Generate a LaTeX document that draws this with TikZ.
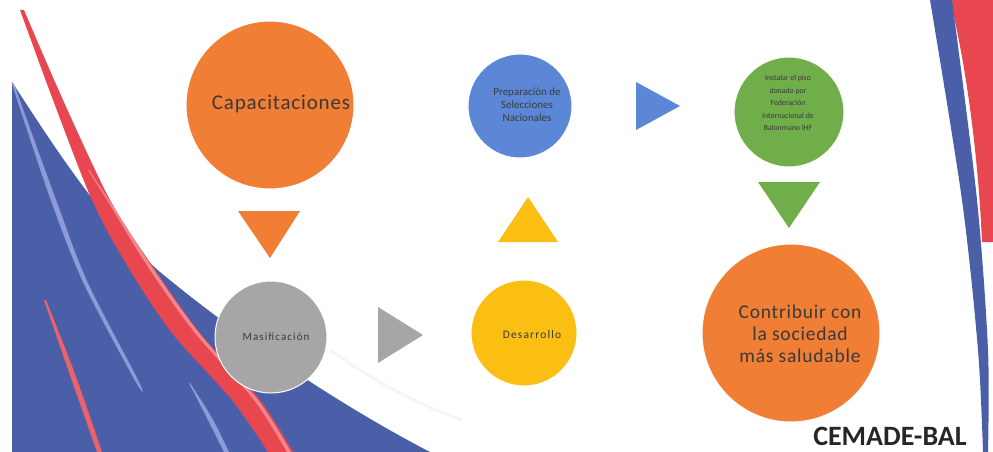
\documentclass[tikz,border=0pt]{standalone}
\usepackage{fontspec}
\setmainfont{Carlito}
\definecolor{swblue}{HTML}{4A5FA8}
\definecolor{swlight}{HTML}{8D9CD8}
\definecolor{swred}{HTML}{E8474F}
\definecolor{swpink}{HTML}{EE8890}
\definecolor{corange}{HTML}{F07E35}
\definecolor{cgray}{HTML}{A6A6A6}
\definecolor{cyellow}{HTML}{FBBF14}
\definecolor{cblue}{HTML}{5B87D6}
\definecolor{cgreen}{HTML}{6FAE48}
\definecolor{txt}{HTML}{3A3A3A}
\begin{document}
\begin{tikzpicture}[x=1pt,y=-1pt,
  disc/.style={circle,draw=white,line width=1pt,inner sep=0pt},
  lbl/.style={text=txt,align=center,inner sep=0pt}]
\useasboundingbox (0,0) rectangle (993,452);
% ---------- left swoosh ----------
\fill[swblue] (12,82) .. controls (50,140) and (100,220) .. (160,272)
   .. controls (230,330) and (330,400) .. (430,452) -- (12,452) -- cycle;
\fill[swlight] plot[smooth] coordinates {(12,84) (50,198) (83,282) (133,377) (143,392)}
   -- plot[smooth] coordinates {(143,392) (136,376) (87,281) (55,197) (14,84)} -- cycle;
\fill[swlight] plot[smooth] coordinates {(189,383) (208,420) (224,452)}
   -- plot[smooth] coordinates {(229,452) (212,418) (190,383)} -- cycle;
\fill[swred!85] plot[smooth] coordinates {(44,300) (70,375) (97,452)}
   -- plot[smooth] coordinates {(102,452) (75,374) (46,300)} -- cycle;
\fill[swred] plot[smooth] coordinates {(20,10) (53,100) (92,200) (128,267) (172,333) (232,400) (268,452)}
   -- plot[smooth] coordinates {(293,452) (260,400) (200,333) (153,267) (110,200) (63,100) (24,10)} -- cycle;
\fill[swpink] plot[smooth] coordinates {(88,170) (107,200) (148,267) (195,333) (254,400) (287,452)}
   -- plot[smooth] coordinates {(291,452) (258,400) (199,333) (152,267) (109,200) (89,170)} -- cycle;
\draw[gray!8,line width=3pt] (330,350) .. controls (380,385) and (420,405) .. (462,420);
% ---------- right swoosh ----------
\fill[swred] (950,0) -- (993,0) -- (993,242) -- (982,242)
   .. controls (978,150) and (965,60) .. (950,0) -- cycle;
\fill[swblue] plot[smooth] coordinates {(930,0) (962,200) (978,350) (983,452)}
   -- plot[smooth] coordinates {(988,452) (988,350) (977,200) (952,0)} -- cycle;
% ---------- circles ----------
\node[disc,fill=corange,minimum size=168pt] (cap) at (270,105) {};
\node[disc,fill=cgray,minimum size=112pt] (mas) at (271,337) {};
\node[disc,fill=cyellow,minimum size=106pt] (des) at (524,333) {};
\node[disc,fill=cblue,minimum size=104pt] (pre) at (520,106) {};
\node[disc,fill=cgreen,minimum size=110pt] (ins) at (789,112) {};
\node[disc,fill=corange,minimum size=178pt] (con) at (791,333) {};
% ---------- triangles ----------
\fill[corange] (238,211) -- (300,211) -- (270,258) -- cycle;
\fill[cgray] (378,307) -- (423,335) -- (378,363) -- cycle;
\fill[cyellow] (498,242) -- (558,242) -- (528,197) -- cycle;
\fill[cblue] (636,82) -- (680,106) -- (636,130) -- cycle;
\fill[cgreen] (758,182) -- (820,182) -- (789,228) -- cycle;
% ---------- texts ----------
\node[lbl,font=\fontsize{21}{26}\selectfont\addfontfeature{LetterSpace=4}] (tcap) at (281,104) {Capacitaciones};
\node[lbl,font=\fontsize{11}{12}\selectfont\addfontfeature{LetterSpace=10}] (tmas) at (276,337) {Masificación};
\node[lbl,font=\fontsize{11.5}{12}\selectfont\addfontfeature{LetterSpace=10}] (tdes) at (532,335) {Desarrollo};
\node[lbl,font=\fontsize{11}{13}\selectfont] (tpre) at (527,105) {Preparación de\\Selecciones\\Nacionales};
\node[lbl,font=\fontsize{7.8}{12.4}\selectfont] (tins) at (788,103) {Instalar el piso\\donado por\\Federación\\Internacional de\\Balonmano IHF};
\node[lbl,font=\fontsize{19.5}{22}\selectfont\addfontfeature{LetterSpace=4}] (tcon) at (800,334) {Contribuir con\\la sociedad\\más saludable};
\node[inner sep=0pt,text=black!85,font=\fontsize{28}{30}\selectfont\bfseries] (logo) at (890,436) {CEMADE-BAL};
\end{tikzpicture}
\end{document}
